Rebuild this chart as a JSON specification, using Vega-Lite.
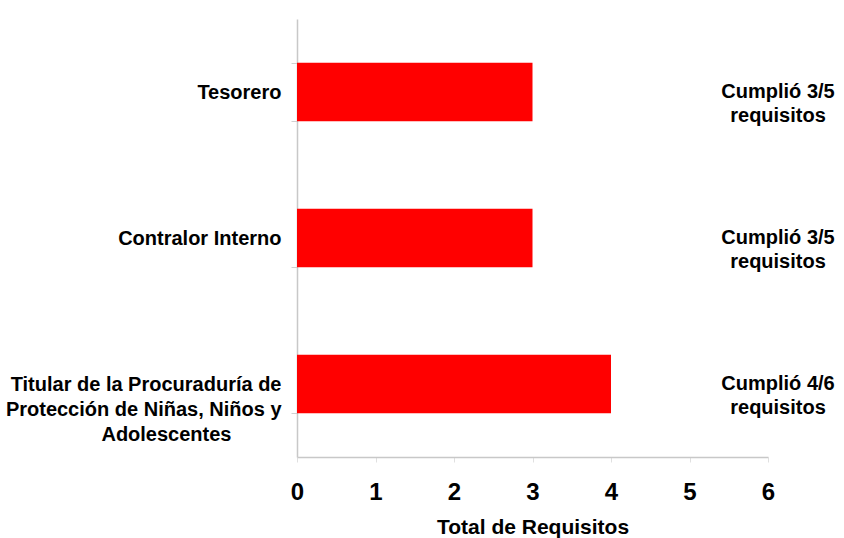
{
  "$schema": "https://vega.github.io/schema/vega-lite/v6.json",
  "width": 471,
  "height": 438,
  "autosize": "none",
  "padding": {"left": 297, "top": 19, "right": 76, "bottom": 81},
  "background": "white",
  "config": {
    "view": {"stroke": null},
    "font": "Liberation Sans, Arial, sans-serif"
  },
  "data": {
    "values": [
      {"cargo": "Tesorero", "total": 3, "estado": "Cumplió 3/5\nrequisitos"},
      {"cargo": "Contralor Interno", "total": 3, "estado": "Cumplió 3/5\nrequisitos"},
      {"cargo": "Titular de la Procuraduría de Protección de Niñas, Niños y Adolescentes", "total": 4, "estado": "Cumplió 4/6\nrequisitos"}
    ]
  },
  "encoding": {
    "y": {
      "field": "cargo",
      "type": "nominal",
      "sort": null,
      "scale": {"paddingInner": 0.6, "paddingOuter": 0.3},
      "axis": {
        "title": null,
        "labelFontSize": 20,
        "labelFontWeight": "bold",
        "labelColor": "#000000",
        "labelPadding": 10,
        "labelLimit": 0,
        "labelLineHeight": 25,
        "labelExpr": "indexof(datum.label, 'Titular') == 0 ? ['Titular de la Procuraduría de', 'Protección de Niñas, Niños y', 'Adolescentes\\u00a0\\u00a0\\u00a0\\u00a0\\u00a0\\u00a0\\u00a0\\u00a0\\u00a0\\u2060'] : datum.label",
        "domainColor": "#c8c8c8",
        "domainWidth": 1.5,
        "tickColor": "#d0d0d0",
        "tickSize": 6,
        "tickBand": "extent"
      }
    }
  },
  "layer": [
    {
      "mark": {"type": "bar", "color": "#FF0000"},
      "encoding": {
        "x": {
          "field": "total",
          "type": "quantitative",
          "scale": {"domain": [0, 6], "nice": false},
          "axis": {
            "title": "Total de Requisitos",
            "titleFontSize": 21,
            "titleFontWeight": "bold",
            "titleColor": "#000000",
            "titlePadding": 12,
            "values": [0, 1, 2, 3, 4, 5, 6],
            "format": "d",
            "labelFontSize": 24,
            "labelFontWeight": "bold",
            "labelColor": "#000000",
            "labelPadding": 18,
            "labelFlush": false,
            "grid": false,
            "domainColor": "#c8c8c8",
            "domainWidth": 1.5,
            "tickColor": "#e0e0e0",
            "tickSize": 5
          }
        }
      }
    },
    {
      "mark": {
        "type": "text",
        "fontSize": 20,
        "fontWeight": "bold",
        "color": "#000000",
        "lineBreak": "\n",
        "lineHeight": 24,
        "align": "center",
        "baseline": "middle",
        "dx": 10,
        "clip": false
      },
      "encoding": {
        "x": {"datum": 6},
        "text": {"field": "estado"}
      }
    }
  ]
}
